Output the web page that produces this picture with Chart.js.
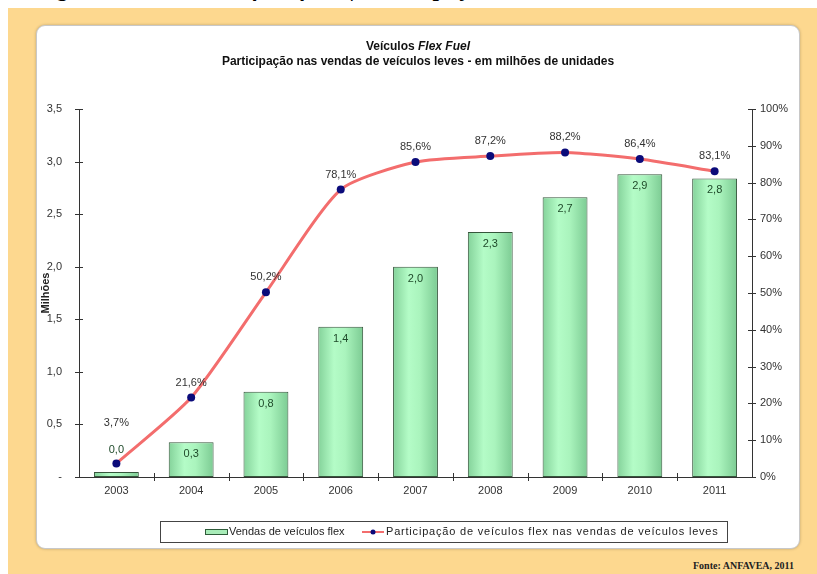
<!DOCTYPE html>
<html>
<head>
<meta charset="utf-8">
<script src="https://cdn.jsdelivr.net/npm/chart.js@4"></script>
<style>
body{margin:0;background:#fff;width:817px;height:574px;overflow:hidden;position:relative;font-family:"Liberation Sans",Arial,sans-serif}
#top{position:absolute;left:36px;top:-24px;font:bold 23px "Liberation Serif",serif;white-space:nowrap;color:#000;word-spacing:6px}
#frame{position:absolute;left:8px;top:8px;width:809px;height:566px;background:#fdd88f}
#panel{position:absolute;left:36px;top:25px;width:762px;height:522px;background:#fff;border:1px solid #c8c8c8;border-radius:9px;box-shadow:0 0 3px rgba(0,0,0,.25)}
#fonte{position:absolute;right:23px;top:560px;font:bold 10px "Liberation Serif",serif;color:#222}
canvas{position:absolute;left:0;top:0}
</style>
</head>
<body>
<div id="top">Figura 1 – Veículos <i>flex fuel</i> | Participação nas vendas de veículos leves</div>
<div id="frame"></div>
<div id="panel"></div>
<div id="fonte">Fonte: ANFAVEA, 2011</div>
<canvas id="c" width="817" height="574"></canvas>
<script>
anos         = ['2003','2004','2005','2006','2007','2008','2009','2010','2011']
vendas       = [0.048, 0.33, 0.81, 1.43, 2.00, 2.33, 2.66, 2.88, 2.84]   // milhões de unidades
participacao = [3.7, 21.6, 50.2, 78.1, 85.6, 87.2, 88.2, 86.4, 83.1]    // %

nomeBarra = 'Vendas de veículos flex'
nomeLinha = 'Participação de veículos flex nas vendas de veículos leves'
titulo1   = 'Veículos '
titulo1b  = 'Flex Fuel'
titulo2   = 'Participação nas vendas de veículos leves - em milhões de unidades'

fonte = '"Liberation Sans", Arial, sans-serif'
Chart.defaults.font.family = fonte
Chart.defaults.font.size = 11
Chart.defaults.color = '#333'

function virgula(v,d){ return v.toFixed(d).replace('.',',') }

// gradiente horizontal em cada barra
function corBarra(c){
    var ch=c.chart, xs=ch.scales.x
    if(!xs || c.dataIndex==null) return '#a8ecb8'
    var x=xs.getPixelForValue(c.dataIndex)
    var w=xs.width/anos.length*0.6
    if(!isFinite(x) || !isFinite(w) || w<=0) return '#a8ecb8'
    var g=ch.ctx.createLinearGradient(x-w/2,0,x+w/2,0)
    g.addColorStop(0,'#84d29a')
    g.addColorStop(0.35,'#b4fcc7')
    g.addColorStop(0.6,'#aaf4bd')
    g.addColorStop(1,'#7ccb93')
    return g
}

extras = {
    id:'extras',
    afterDraw: function(ch){
        var c=ch.ctx, a=ch.chartArea, xs=ch.scales.x, ys=ch.scales.y, y2=ch.scales.y1
        c.save()

        // marcas cruzando os eixos
        c.strokeStyle='#333'; c.lineWidth=1
        c.beginPath()
        ys.ticks.forEach(function(t){
            var p=Math.round(ys.getPixelForValue(t.value))+0.5
            c.moveTo(a.left-4,p); c.lineTo(a.left+4,p)
        })
        y2.ticks.forEach(function(t){
            var p=Math.round(y2.getPixelForValue(t.value))+0.5
            c.moveTo(a.right-4,p); c.lineTo(a.right+4,p)
        })
        var passo=xs.width/anos.length
        for(var i=1;i<anos.length;i++){
            var p=Math.round(a.left+i*passo)+0.5
            c.moveTo(p,a.bottom-4); c.lineTo(p,a.bottom+4)
        }
        c.stroke()

        // rótulos das barras e da linha
        var barras=ch.getDatasetMeta(0).data, pontos=ch.getDatasetMeta(1).data
        c.textAlign='center'; c.textBaseline='middle'
        c.font='11px '+fonte
        barras.forEach(function(b,i){
            var h=b.base-b.y
            var yb = h<24 ? b.y-22 : b.y+12
            c.fillStyle='#1f4a2a'
            c.fillText(virgula(vendas[i],1),b.x,yb)
            var yp=Math.min(pontos[i].y-15, yb-27)
            c.fillStyle='#333'
            c.fillText(virgula(participacao[i],1)+'%',pontos[i].x,yp)
        })

        // título
        c.fillStyle='#111'
        c.font='bold 12px '+fonte
        var w1=c.measureText(titulo1).width
        c.font='italic bold 12px '+fonte
        var w2=c.measureText(titulo1b).width
        var x0=418-(w1+w2)/2
        c.textAlign='left'
        c.font='bold 12px '+fonte
        c.fillText(titulo1,x0,47)
        c.font='italic bold 12px '+fonte
        c.fillText(titulo1b,x0+w1,47)
        c.textAlign='center'
        c.font='bold 12px '+fonte
        c.fillText(titulo2,418,62)

        // legenda
        c.strokeStyle='#444'; c.lineWidth=1
        c.strokeRect(160.5,521.5,567,21)
        c.font='11px '+fonte
        c.textAlign='left'
        c.fillStyle='#a8ecb8'; c.fillRect(205,529,23,6)
        c.strokeStyle='#2f5b3a'; c.strokeRect(205.5,529.5,22,5)
        c.fillStyle='#222'
        c.fillText(ch.data.datasets[0].label,229,532)
        c.strokeStyle='#f36d6d'; c.lineWidth=2
        c.beginPath(); c.moveTo(362,532); c.lineTo(384,532); c.stroke()
        c.fillStyle='#0b0b7a'
        c.beginPath(); c.arc(373,532,2.5,0,Math.PI*2); c.fill()
        c.fillStyle='#222'
        c.letterSpacing='0.8px'
        c.fillText(ch.data.datasets[1].label,386,532)

        c.restore()
    }
}

grafico = new Chart(document.getElementById('c').getContext('2d'), {
    type:'bar',
    data:{
        labels:anos,
        datasets:[{
            type:'bar',
            label:nomeBarra,
            data:vendas,
            yAxisID:'y',
            backgroundColor:corBarra,
            borderColor:'#36563c',
            borderWidth:1,
            borderSkipped:false,
            barPercentage:0.6,
            categoryPercentage:1,
            order:2
        },{
            type:'line',
            label:nomeLinha,
            data:participacao,
            yAxisID:'y1',
            borderColor:'#f36d6d',
            borderWidth:3,
            tension:0.22,
            pointRadius:4,
            pointBackgroundColor:'#0b0b7a',
            pointBorderWidth:0,
            order:1
        }]
    },
    options:{
        responsive:false,
        animation:false,
        layout:{padding:{left:35,right:0,top:109,bottom:77}},
        plugins:{legend:{display:false},title:{display:false},tooltip:{enabled:false}},
        scales:{
            x:{
                grid:{display:false,drawTicks:false},
                border:{color:'#333'},
                ticks:{padding:7,color:'#333'},
                afterFit:function(s){ s.height=20 }
            },
            y:{
                position:'left',
                min:0, max:3.5,
                grid:{display:false,drawTicks:false},
                border:{color:'#333'},
                ticks:{stepSize:0.5,padding:17,color:'#333',
                    callback:function(v){ return v==0 ? '-' : virgula(v,1) }},
                title:{display:true,text:'Milhões',color:'#222',font:{weight:'bold',size:11},padding:{top:4,bottom:0}},
                afterFit:function(s){ s.width=44 }
            },
            y1:{
                position:'right',
                min:0, max:100,
                grid:{display:false,drawTicks:false},
                border:{color:'#333'},
                ticks:{stepSize:10,padding:8,color:'#333',
                    callback:function(v){ return v+'%' }},
                afterFit:function(s){ s.width=65 }
            }
        }
    },
    plugins:[extras]
})
</script>
</body>
</html>
